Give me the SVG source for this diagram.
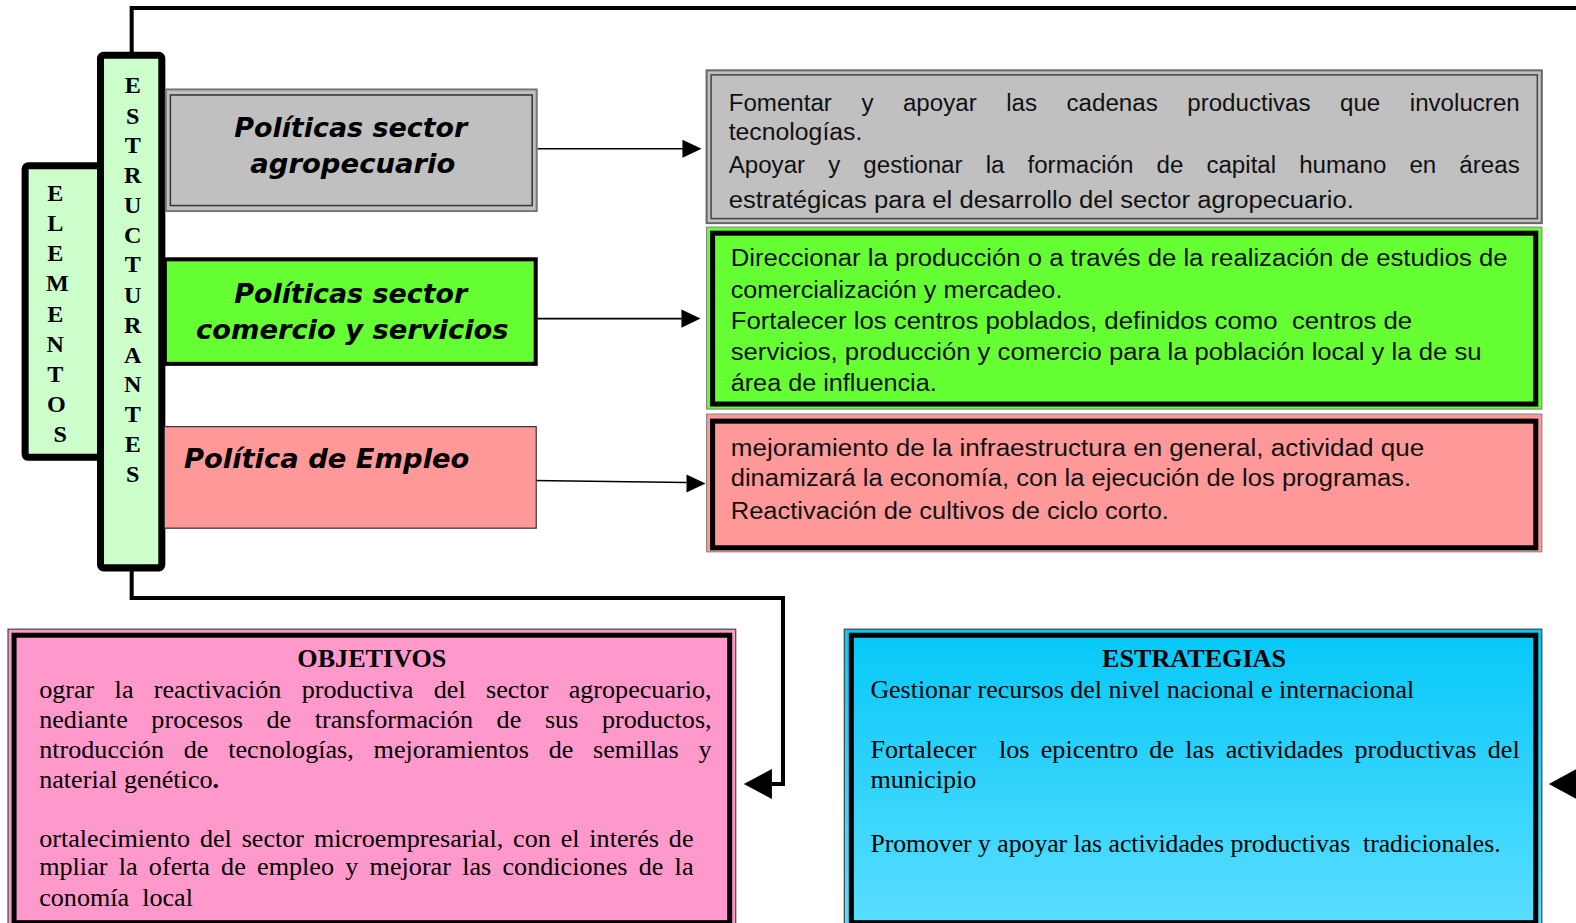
<svg xmlns="http://www.w3.org/2000/svg" width="1576" height="923" viewBox="0 0 1576 923">
<style>
.vl{font-family:"Liberation Serif","Times New Roman",serif;font-weight:bold;font-size:24px;fill:#000;text-anchor:middle}
.pl{font-family:"DejaVu Sans",Verdana,sans-serif;font-weight:bold;font-style:italic;font-size:26px;fill:#000}
.rt{font-family:"Liberation Sans",Arial,sans-serif;font-size:24px;fill:#111}
.st{font-family:"Liberation Serif","Times New Roman",serif;font-size:26px;fill:#000}
.hd{font-family:"Liberation Serif","Times New Roman",serif;font-size:26px;font-weight:bold;fill:#000;text-anchor:middle}
.conn{fill:none;stroke:#000;stroke-width:4}
</style>
<defs>
<linearGradient id="blue" x1="0" y1="0" x2="0" y2="1">
<stop offset="0" stop-color="#05C8F8"/>
<stop offset="1" stop-color="#5CDEFF"/>
</linearGradient>
<clipPath id="objclip"><rect x="38" y="630" width="690" height="293"/></clipPath>
</defs>
<g transform="scale(1.0051)">

<g id="connectors">
<polyline class="conn" points="131,53 131,8 1576,8"/>
<polyline class="conn" points="131,566 131,595 779,595 779,780 768,780"/>
<path d="M740,780 L768,765 L768,795 z" fill="#000"/>
<path d="M1541,780 L1576,761 L1576,799 z" fill="#000"/>
<line x1="535" y1="148" x2="680" y2="148" stroke="#000" stroke-width="1.6"/>
<path d="M698,148 L679,139 L679,157 z" fill="#000"/>
<line x1="535" y1="317" x2="678" y2="317" stroke="#000" stroke-width="1.6"/>
<path d="M697,317 L678,308 L678,326 z" fill="#000"/>
<line x1="530" y1="478" x2="683" y2="480" stroke="#000" stroke-width="1.6"/>
<path d="M702,481 L683,472 L683,490 z" fill="#000"/>
</g>

<g id="elementos">
<rect x="25" y="165" width="76" height="290" rx="3" fill="#CCFFCC" stroke="#000" stroke-width="7"/>
<text class="vl" x="55" y="200">E</text>
<text class="vl" x="55" y="230">L</text>
<text class="vl" x="55" y="260">E</text>
<text class="vl" x="57" y="290">M</text>
<text class="vl" x="55" y="320">E</text>
<text class="vl" x="55" y="350">N</text>
<text class="vl" x="55" y="380">T</text>
<text class="vl" x="56" y="410">O</text>
<text class="vl" x="60" y="440">S</text>
</g>

<g id="estructurantes">
<rect x="100" y="55" width="61" height="510" rx="3" fill="#CCFFCC" stroke="#000" stroke-width="7"/>
<text class="vl" x="132" y="93">E</text>
<text class="vl" x="132" y="123">S</text>
<text class="vl" x="132" y="152">T</text>
<text class="vl" x="132" y="182">R</text>
<text class="vl" x="132" y="212">U</text>
<text class="vl" x="132" y="242">C</text>
<text class="vl" x="132" y="271">T</text>
<text class="vl" x="132" y="301">U</text>
<text class="vl" x="132" y="331">R</text>
<text class="vl" x="132" y="361">A</text>
<text class="vl" x="132" y="390">N</text>
<text class="vl" x="132" y="420">T</text>
<text class="vl" x="132" y="450">E</text>
<text class="vl" x="132" y="480">S</text>
</g>

<g id="pol-agro">
<rect x="165" y="89" width="369" height="121" fill="#C0C0C0" stroke="#777" stroke-width="2"/>
<rect x="169.5" y="94.5" width="360" height="110" fill="none" stroke="#333" stroke-width="1.5"/>
<text class="pl" x="233" y="136" textLength="232" lengthAdjust="spacingAndGlyphs">Políticas sector</text>
<text class="pl" x="249" y="172" textLength="204" lengthAdjust="spacingAndGlyphs">agropecuario</text>
</g>

<g id="pol-comercio">
<rect x="164" y="258" width="369" height="104" fill="#66FF33" stroke="#000" stroke-width="4"/>
<text class="pl" x="233" y="301" textLength="232" lengthAdjust="spacingAndGlyphs">Políticas sector</text>
<text class="pl" x="195" y="337" textLength="311" lengthAdjust="spacingAndGlyphs">comercio y servicios</text>
</g>

<g id="pol-empleo">
<rect x="163.5" y="424.5" width="370" height="101" fill="#FF9999" stroke="#333" stroke-width="1.2"/>
<text class="pl" x="183" y="466" textLength="284" lengthAdjust="spacingAndGlyphs">Política de Empleo</text>
</g>

<g id="txt-agro">
<rect x="703" y="70" width="831" height="152" fill="#C0C0C0" stroke="#666" stroke-width="2"/>
<rect x="707.5" y="74.5" width="822" height="143" fill="none" stroke="#444" stroke-width="1.5"/>
<text class="rt" x="725" y="110" word-spacing="22.7" textLength="787" lengthAdjust="spacingAndGlyphs">Fomentar y apoyar las cadenas productivas que involucren</text>
<text class="rt" x="725" y="139" textLength="133" lengthAdjust="spacingAndGlyphs">tecnologías.</text>
<text class="rt" x="725" y="172" word-spacing="16.3" textLength="787" lengthAdjust="spacingAndGlyphs">Apoyar y gestionar la formación de capital humano en áreas</text>
<text class="rt" x="725" y="207" textLength="622" lengthAdjust="spacingAndGlyphs">estratégicas para el desarrollo del sector agropecuario.</text>
</g>

<g id="txt-comercio">
<rect x="703" y="226" width="831" height="181" fill="#66FF33" stroke="#888" stroke-width="1.2"/>
<rect x="709" y="232" width="819" height="170" fill="none" stroke="#000" stroke-width="5"/>
<text class="rt" x="727" y="265" textLength="773" lengthAdjust="spacingAndGlyphs">Direccionar la producción o a través de la realización de estudios de</text>
<text class="rt" x="727" y="296" textLength="330" lengthAdjust="spacingAndGlyphs">comercialización y mercadeo.</text>
<text class="rt" x="727" y="327" textLength="678" lengthAdjust="spacingAndGlyphs" xml:space="preserve">Fortalecer los centros poblados, definidos como  centros de</text>
<text class="rt" x="727" y="358" textLength="747" lengthAdjust="spacingAndGlyphs">servicios, producción y comercio para la población local y la de su</text>
<text class="rt" x="727" y="389" textLength="205" lengthAdjust="spacingAndGlyphs">área de influencia.</text>
</g>

<g id="txt-empleo">
<rect x="703" y="412" width="831" height="137" fill="#FF9999" stroke="#888" stroke-width="1.2"/>
<rect x="709" y="419" width="819" height="126" fill="none" stroke="#000" stroke-width="5"/>
<text class="rt" x="727" y="454" textLength="690" lengthAdjust="spacingAndGlyphs">mejoramiento de la infraestructura en general, actividad que</text>
<text class="rt" x="727" y="484" textLength="677" lengthAdjust="spacingAndGlyphs">dinamizará la economía, con la ejecución de los programas.</text>
<text class="rt" x="727" y="516" textLength="436" lengthAdjust="spacingAndGlyphs">Reactivación de cultivos de ciclo corto.</text>
</g>

<g id="objetivos">
<rect x="8" y="626" width="724" height="300" fill="#FF99CC" stroke="#444" stroke-width="1.2"/>
<rect x="14" y="632" width="712" height="286" fill="none" stroke="#000" stroke-width="5"/>
<text class="hd" x="370" y="664">OBJETIVOS</text>
<g clip-path="url(#objclip)">
<text class="st" x="39" y="694" word-spacing="13.7" textLength="669" lengthAdjust="spacingAndGlyphs">ograr la reactivación productiva del sector agropecuario,</text>
<text class="st" x="39" y="724" word-spacing="17" textLength="669" lengthAdjust="spacingAndGlyphs">nediante procesos de transformación de sus productos,</text>
<text class="st" x="39" y="754" word-spacing="13.2" textLength="669" lengthAdjust="spacingAndGlyphs">ntroducción de tecnologías, mejoramientos de semillas y</text>
<text class="st" x="39" y="784">naterial genético<tspan font-weight="bold">.</tspan></text>
<text class="st" x="39" y="843" word-spacing="3.3" textLength="651" lengthAdjust="spacingAndGlyphs">ortalecimiento del sector microempresarial, con el interés de</text>
<text class="st" x="39" y="871" word-spacing="4.7" textLength="651" lengthAdjust="spacingAndGlyphs">mpliar la oferta de empleo y mejorar las condiciones de la</text>
<text class="st" x="39" y="901" xml:space="preserve">conomía  local</text>
</g>
</g>

<g id="estrategias">
<rect x="840" y="626" width="694" height="300" fill="url(#blue)" stroke="#444" stroke-width="1.2"/>
<rect x="847" y="632" width="681" height="286" fill="none" stroke="#000" stroke-width="5"/>
<text class="hd" x="1188" y="664">ESTRATEGIAS</text>
<text class="st" x="866" y="694" textLength="541" lengthAdjust="spacingAndGlyphs">Gestionar recursos del nivel nacional e internacional</text>
<text class="st" x="866" y="754" word-spacing="4.75" textLength="646" lengthAdjust="spacingAndGlyphs" xml:space="preserve">Fortalecer  los epicentro de las actividades productivas del</text>
<text class="st" x="866" y="784">municipio</text>
<text class="st" x="866" y="848" xml:space="preserve" textLength="627" lengthAdjust="spacingAndGlyphs">Promover y apoyar las actividades productivas  tradicionales.</text>
</g>
</g>
</svg>
